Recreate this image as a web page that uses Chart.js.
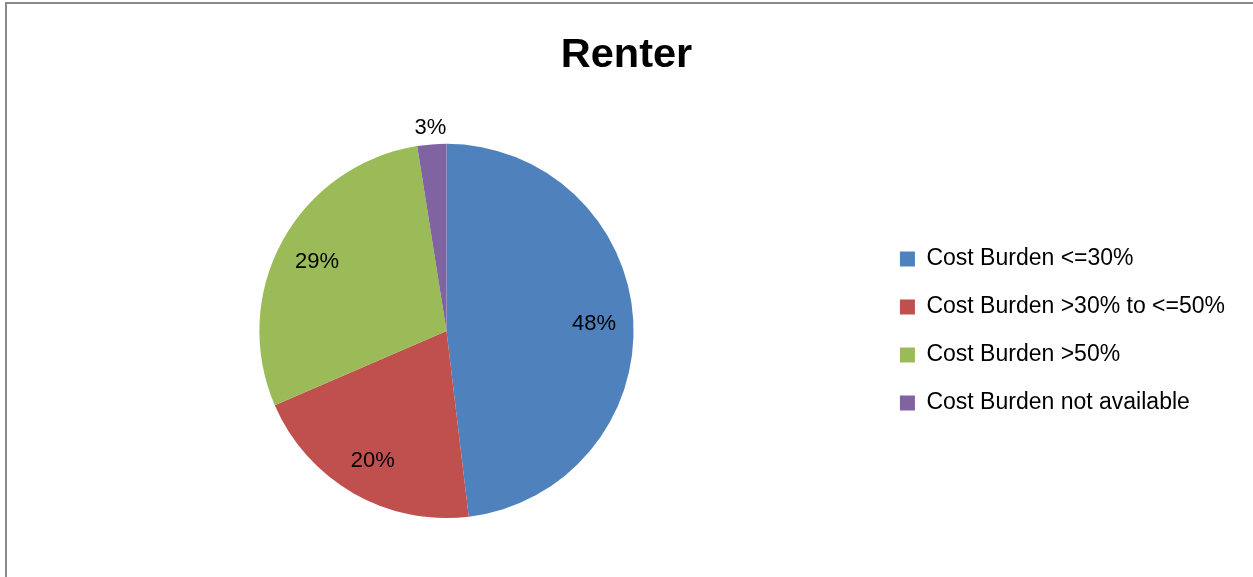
<!DOCTYPE html>
<html>
<head>
<meta charset="utf-8">
<script src="https://cdn.jsdelivr.net/npm/chart.js@4/dist/chart.umd.min.js"></script>
<style>
  html, body { margin: 0; padding: 0; background: #fff; }
  #wrap { position: relative; width: 1253px; height: 577px; overflow: hidden; }
  #frame { position: absolute; left: 5px; top: 2px; width: 1260px; height: 590px;
           border-top: 2px solid #8a8a8a; border-left: 2px solid #8a8a8a; box-sizing: border-box; }
  canvas { position: absolute; left: 0; top: 0; }
</style>
</head>
<body>
<div id="wrap">
  <div id="frame"></div>
  <canvas id="renter" width="1253" height="577"></canvas>
</div>
<script>
var categories = ["Cost Burden <=30%", "Cost Burden >30% to <=50%", "Cost Burden >50%", "Cost Burden not available"];
var shares = [48.1, 20.4, 29.0, 2.5];
var colors = ["#4F81BD", "#C0504D", "#9BBB59", "#8064A2"];
var fontName = "'Liberation Sans', Arial, sans-serif";

// percent labels drawn on (or just outside) each slice
var sliceLabels = {
    id: 'sliceLabels',
    afterDatasetsDraw: function(chart) {
        var ctx = chart.ctx;
        var meta = chart.getDatasetMeta(0);
        var data = chart.data.datasets[0].data;
        var total = data.reduce(function(a, b) { return a + b; }, 0);
        ctx.save();
        ctx.font = "22px " + fontName;
        ctx.fillStyle = "#000";
        ctx.textAlign = "center";
        ctx.textBaseline = "middle";
        meta.data.forEach(function(arc, i) {
            var p = arc.getProps(['x', 'y', 'startAngle', 'endAngle', 'outerRadius'], true);
            var mid = (p.startAngle + p.endAngle) / 2;
            var pct = data[i] / total * 100;
            var r = pct < 5 ? p.outerRadius * 1.1 : p.outerRadius * 0.79;
            ctx.fillText(Math.round(pct) + "%", p.x + Math.cos(mid) * r, p.y + Math.sin(mid) * r + 2);
        });
        ctx.restore();
    }
};

var ctx = document.getElementById("renter").getContext("2d");
var pieChart = new Chart(ctx, {
    type: "pie",
    data: {
        labels: categories,
        datasets: [
            {
                data: shares,
                backgroundColor: colors,
                borderWidth: 0,
                hoverOffset: 0
            }
        ]
    },
    options: {
        responsive: false,
        animation: false,
        layout: {
            padding: { top: 4, left: 18, right: 18, bottom: 59 }
        },
        plugins: {
            title: {
                display: true,
                text: "Renter",
                color: "#000",
                font: { size: 41.5, weight: "bold", family: fontName, lineHeight: 1.2 },
                padding: { top: 27, bottom: 63 }
            },
            legend: {
                position: "right",
                fullSize: false,
                labels: {
                    boxWidth: 15,
                    boxHeight: 15,
                    padding: 25,
                    color: "#000",
                    font: { size: 23, family: fontName }
                }
            },
            tooltip: { enabled: false }
        }
    },
    plugins: [sliceLabels]
});
</script>
</body>
</html>
